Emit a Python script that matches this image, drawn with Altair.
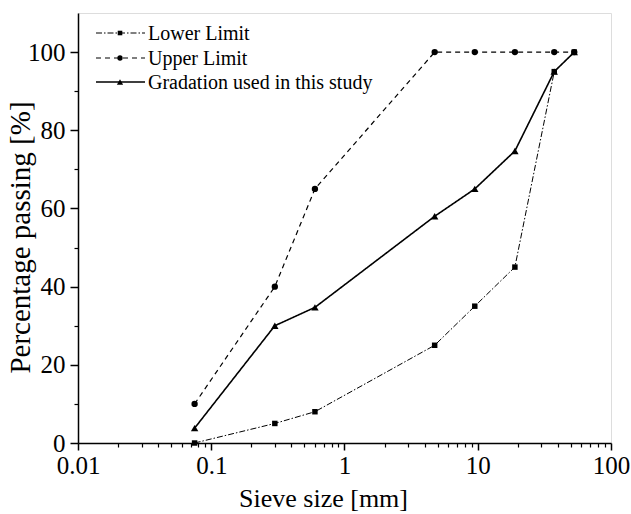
import altair as alt
import pandas as pd

sieve = [0.075, 0.3, 0.6, 4.75, 9.5, 19, 37.5, 53]
lower = [0, 5, 8, 25, 35, 45, 95, 100]
upper = [10, 40, 65, 100, 100, 100, 100, 100]
gradation = [3.8, 30, 34.7, 58, 65, 74.7, 95, 100]

series_names = ["Lower Limit", "Upper Limit", "Gradation used in this study"]
dashes = [[6, 2, 1.5, 2], [5, 4], [1, 0]]
shapes = ["square", "circle", "triangle-up"]
sizes = [30, 40, 55]
widths = [1.0, 1.2, 1.6]

x_major = [0.01, 0.1, 1, 10, 100]
x_minor = [m * d for d in [0.01, 0.1, 1, 10] for m in range(2, 10)]
y_major = [0, 20, 40, 60, 80, 100]
y_minor = [10, 30, 50, 70, 90]

FONT = "Liberation Serif"
W, H = 533, 430

xscale = alt.Scale(type="log", domain=[0.01, 100], nice=False)
yscale = alt.Scale(domain=[0, 110], nice=False, zero=False)

values = [lower, upper, gradation]
layers = []
for i, name in enumerate(series_names):
    df = pd.DataFrame({"sieve": sieve, "pass": values[i]})
    base = alt.Chart(df)
    line = base.mark_line(color="black", strokeWidth=widths[i], strokeDash=dashes[i]).encode(
        x=alt.X("sieve:Q", scale=xscale, axis=None),
        y=alt.Y("pass:Q", scale=yscale, axis=None),
    )
    pts = base.mark_point(shape=shapes[i], filled=True, color="black", size=sizes[i], opacity=1).encode(
        x=alt.X("sieve:Q", scale=xscale, axis=None),
        y=alt.Y("pass:Q", scale=yscale, axis=None),
    )
    layers += [line, pts]

# axes layers
axdf = pd.DataFrame({"sieve": [0.01], "pass": [0]})
axis_common = dict(domainColor="black", tickColor="black", labelColor="black",
                   titleColor="black", grid=False, labelFont=FONT, titleFont=FONT,
                   titleFontWeight="normal")
x_major_axis = alt.Chart(axdf).mark_point(opacity=0).encode(
    x=alt.X("sieve:Q", scale=xscale, title="Sieve size [mm]",
            axis=alt.Axis(values=x_major, format="~g", orient="bottom", tickSize=7, tickWidth=1.5,
                          domainWidth=1.5, labelFontSize=25, titleFontSize=26, labelPadding=3,
                          titleX=245, titleY=63, titleBaseline="alphabetic", titleAlign="center",
                          labelFlush=False, **axis_common)),
    y=alt.Y("pass:Q", scale=yscale, title="Percentage passing [%]",
            axis=alt.Axis(values=y_major, orient="left", tickSize=8, tickWidth=1.5,
                          domainWidth=1.5, labelFontSize=25, titleFontSize=29, labelPadding=5,
                          titleX=-49, titleY=224, titleAngle=-90, titleBaseline="alphabetic",
                          titleAlign="center", labelFlush=False, **axis_common)),
)
x_minor_axis = alt.Chart(axdf).mark_point(opacity=0).encode(
    x=alt.X("sieve:Q", scale=xscale, title=None,
            axis=alt.Axis(values=x_minor, orient="bottom", tickSize=4, tickWidth=1.2,
                          labels=False, domain=False, grid=False, tickColor="black")),
    y=alt.Y("pass:Q", scale=yscale, title=None,
            axis=alt.Axis(values=y_minor, orient="left", tickSize=4, tickWidth=1.2,
                          labels=False, domain=False, grid=False, tickColor="black")),
)

# legend
leg_y = [20, 45, 69]
leg_layers = []
for i, name in enumerate(series_names):
    ldf = pd.DataFrame({"label": [name]})
    b = alt.Chart(ldf)
    leg_layers.append(b.mark_rule(color="black", strokeWidth=widths[i], strokeDash=dashes[i]).encode(
        x=alt.value(18), x2=alt.value(67), y=alt.value(leg_y[i])))
    leg_layers.append(b.mark_point(shape=shapes[i], filled=True, color="black", size=sizes[i] * 0.7, opacity=1).encode(
        x=alt.value(42), y=alt.value(leg_y[i])))
    leg_layers.append(b.mark_text(align="left", baseline="middle", font=FONT, fontSize=20, color="black").encode(
        x=alt.value(70), y=alt.value(leg_y[i] + 1), text="label:N"))

chart = alt.layer(x_major_axis, x_minor_axis, *layers, *leg_layers).resolve_axis(
    x="independent", y="independent"
).properties(
    width=W, height=H,
    autosize=alt.AutoSizeParams(type="none"),
    padding={"left": 78, "top": 13, "right": 20, "bottom": 71},
).configure_view(stroke=None).configure(background="white")

chart.save("out.html", embed_options={"renderer": "svg", "actions": False})
